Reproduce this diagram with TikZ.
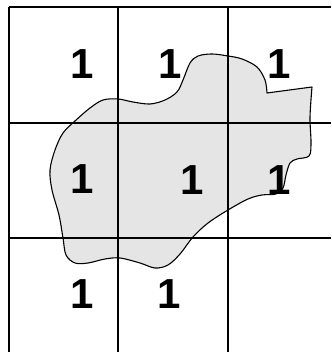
\documentclass[tikz,border=0pt]{standalone}
\usepackage{fontspec}
\setmainfont{Liberation Sans}
\begin{document}
\begin{tikzpicture}[x=1pt,y=1pt,
  gridline/.style={line width=1.4pt,black},
  blobfill/.style={fill=black!10},
  blobline/.style={line width=1.1pt,black,line join=round},
  digit/.style={inner sep=0pt,font=\fontsize{42}{42}\selectfont\bfseries}]
\useasboundingbox (0,0) rectangle (331,352);
% pixel coordinates (y downward) mapped to tikz
\begin{scope}[yscale=-1,yshift=-352]
\def\blobpath{plot[smooth,tension=0.55] coordinates {
 (312,87) (310,117) (311,143) (309,156) (297,159) (290,163) (286,175) (283,188)
 (276,194) (262,195) (248,199) (228,210) (208,223) (193,237) (180,254) (168,265)
 (155,268) (140,263) (120,258) (105,259) (88,263) (75,263) (66,255) (63,238)
 (59,215) (52,190) (50,170) (55,150) (63,133) (75,121) (90,108) (103,100)
 (118,99) (133,102) (150,104) (165,100) (177,92) (183,80) (190,63) (198,56)
 (212,54) (228,56) (242,59) (257,67) (265,80) (267,93)} -- cycle}
\fill[blobfill] \blobpath;
% grid
\coordinate (v1t) at (9,7);   \coordinate (v1b) at (9,352);
\coordinate (v2t) at (118,7); \coordinate (v2b) at (118,352);
\coordinate (v3t) at (228,7); \coordinate (v3b) at (228,352);
\coordinate (h1l) at (9,7);   \coordinate (h1r) at (331,7);
\coordinate (h2l) at (9,123); \coordinate (h2r) at (331,123);
\coordinate (h3l) at (9,238); \coordinate (h3r) at (331,238);
\draw[gridline] (v1t) -- (v1b);
\draw[gridline] (v2t) -- (v2b);
\draw[gridline] (v3t) -- (v3b);
\draw[gridline] (h1l) -- (h1r);
\draw[gridline] (h2l) -- (h2r);
\draw[gridline] (h3l) -- (h3r);
\draw[blobline] \blobpath;
% digits
\node[digit] (a1) at (82,64) {1};
\node[digit] (a2) at (170,64) {1};
\node[digit] (a3) at (279,64) {1};
\node[digit] (b1) at (82,179) {1};
\node[digit] (b2) at (192,180) {1};
\node[digit] (b3) at (279,180) {1};
\node[digit] (c1) at (82,294) {1};
\node[digit] (c2) at (169,294) {1};
\end{scope}
\end{tikzpicture}
\end{document}
